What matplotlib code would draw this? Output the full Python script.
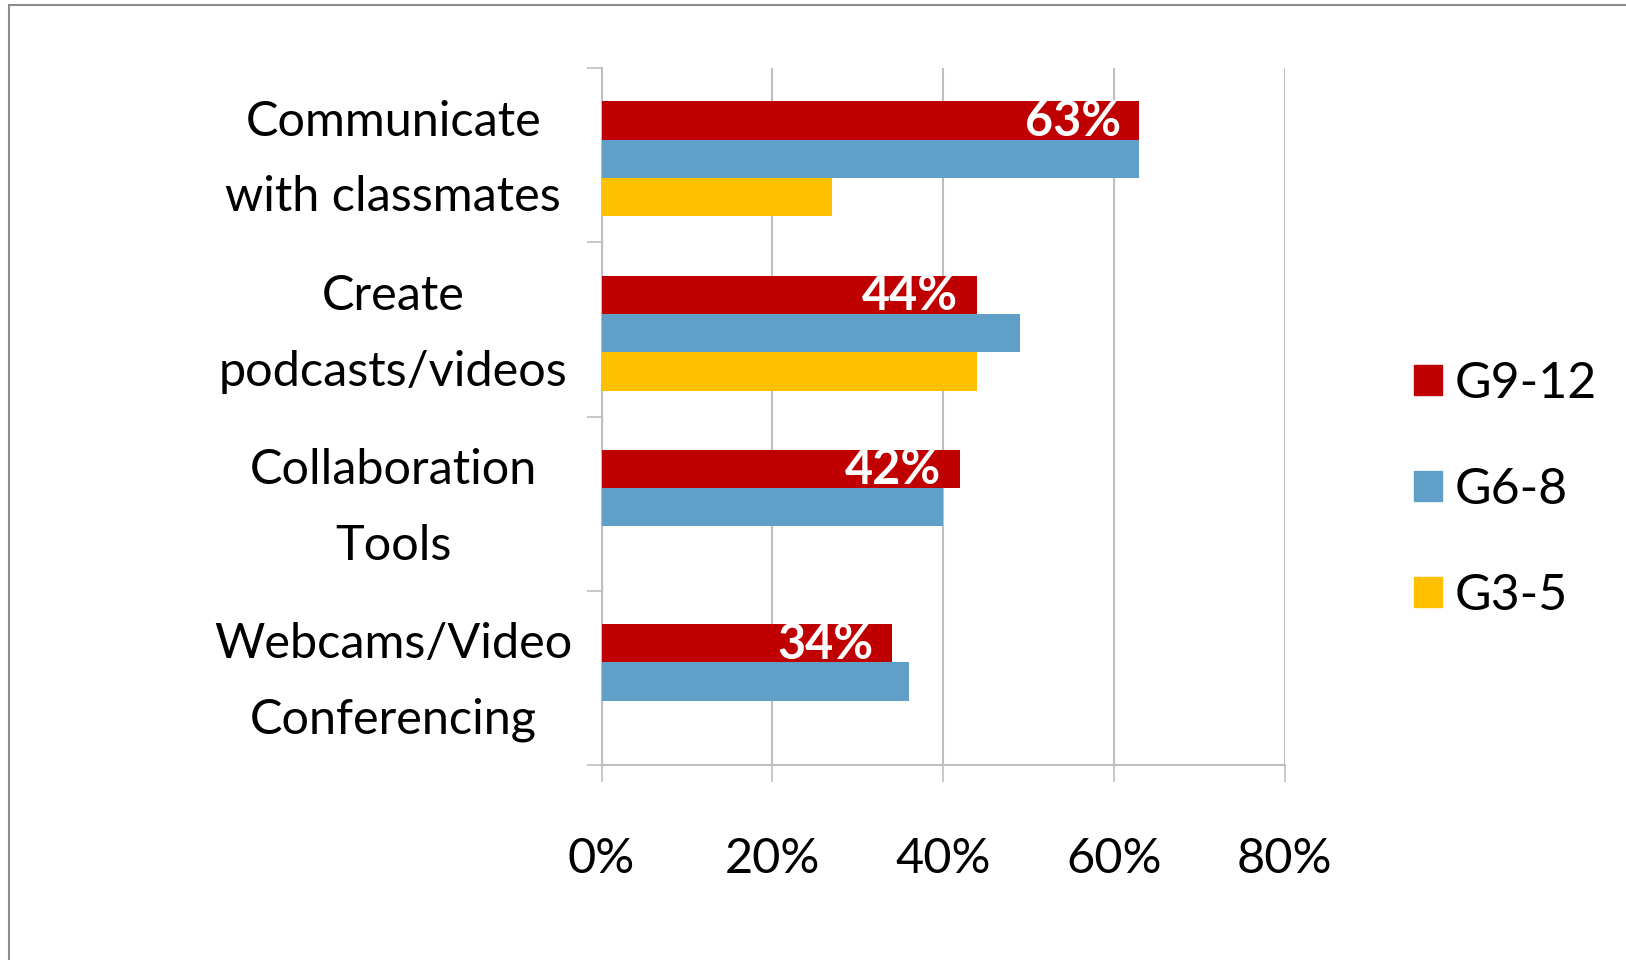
import matplotlib
matplotlib.use("Agg")
import matplotlib.pyplot as plt
from matplotlib.patches import Patch, Rectangle
import numpy as np

plt.rcParams["font.family"] = ["Lato", "DejaVu Sans"]

categories = ["Communicate\nwith classmates", "Create\npodcasts/videos",
              "Collaboration\nTools", "Webcams/Video\nConferencing"]
series = ["G9-12", "G6-8", "G3-5"]
g9_12 = [63, 44, 42, 34]
g6_8 = [63, 49, 40, 36]
g3_5 = [27, 44, 0, 0]
colors = ["#c00000", "#60a0c8", "#ffc000"]
ticks = [0, 20, 40, 60, 80]

fig = plt.figure(figsize=(16.26, 9.6), dpi=100)
ax = fig.add_axes([0.370, 0.203, 0.420, 0.726])

# grey frame, cut off at right and bottom like the original
fig.patches.append(Rectangle((9 / 1626, -0.1), 1.2, 1 - 5 / 960 + 0.1,
                             transform=fig.transFigure, fill=False,
                             edgecolor="#8c8c8c", linewidth=1.5))

y = np.arange(len(categories))
h = 0.22
for i, (vals, col) in enumerate(zip([g9_12, g6_8, g3_5], colors)):
    ax.barh(y + (i - 1) * h + 0.02, vals, height=h, color=col, label=series[i],
            zorder=3)

for yi, v in zip(y, g9_12):
    ax.text(v - 2.2, yi - h + 0.025, f"{v}%", color="white", fontsize=35,
            fontweight="bold", ha="right", va="center", zorder=4)

ax.set_xlim(0, 80)
ax.set_ylim(3.5, -0.5)
ax.set_xticks(ticks)
ax.set_xticklabels([f"{t}%" for t in ticks], fontsize=35)
ax.tick_params(axis="x", length=12, width=1.2, color="#bfbfbf", pad=40)

# label ticks have no length, so they can sit a hair below group centre
ax.set_yticks(y + 0.025)
ax.set_yticklabels(categories, fontsize=35, linespacing=1.88, ha="center",
                   va="center")
ax.set_yticks(np.arange(-0.5, 4, 1), minor=True)
ax.tick_params(axis="y", which="major", length=0, pad=150)
ax.tick_params(axis="y", which="minor", length=11, width=1.2, color="#bfbfbf")

for s in ["top", "right"]:
    ax.spines[s].set_visible(False)
for s in ["left", "bottom"]:
    ax.spines[s].set_color("#bfbfbf")
    ax.spines[s].set_linewidth(1.5)

ax.grid(axis="x", color="#bfbfbf", linewidth=1.5, zorder=0)
ax.set_axisbelow(True)

handles = [Patch(color=c) for c in colors]
fig.legend(handles, series, loc="center left", bbox_to_anchor=(0.8575, 0.490),
           frameon=False, fontsize=36, handlelength=0.55, handleheight=0.55,
           handletextpad=0.25, labelspacing=1.2, borderaxespad=0)

fig.savefig("out.png", dpi=100)
